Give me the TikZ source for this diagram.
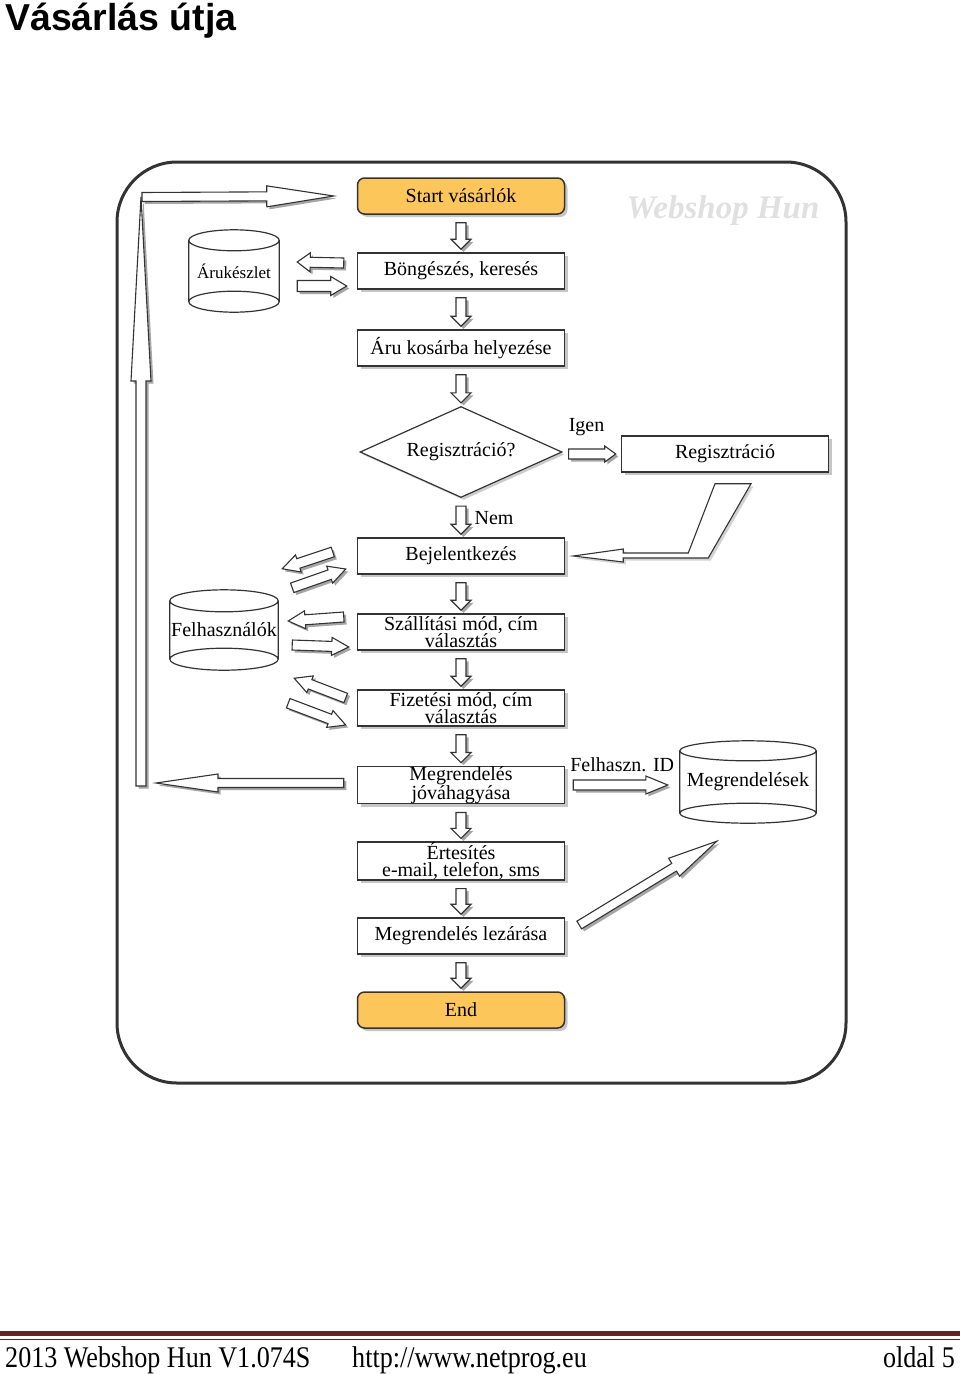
\documentclass[tikz,border=0pt]{standalone}
\usepackage{fontspec}
\setmainfont{Liberation Serif}
\newfontfamily\titlefont{Liberation Sans}
\newfontfamily\footfont[FakeStretch=0.87]{Liberation Serif}
\usetikzlibrary{shapes.geometric,shadows,calc,positioning}

\definecolor{startfill}{RGB}{253,198,91}
\definecolor{linegray}{RGB}{51,51,51}
\definecolor{footred}{RGB}{98,36,35}

% block arrow: from, to, half shaft, half head, head length
\newcommand\barrow[5]{%
  \coordinate (ba) at (#1);
  \coordinate (bb) at (#2);
  \path let \p1=($(bb)-(ba)$) in
    \pgfextra{\pgfmathsetmacro\barang{atan2(\y1,\x1)}\xdef\barang{\barang}%
      \pgfmathsetmacro\barlen{veclen(\x1,\y1)}\xdef\barlen{\barlen}};
  \begin{scope}[shift={($(ba)+(2.5,2.5)$)},rotate=\barang]
    \fill[arrowshade] (0pt,-#3pt) -- (\barlen pt-#5pt,-#3pt) -- (\barlen pt-#5pt,-#4pt)
      -- (\barlen pt,0pt) -- (\barlen pt-#5pt,#4pt) -- (\barlen pt-#5pt,#3pt) -- (0pt,#3pt) -- cycle;
  \end{scope}
  \begin{scope}[shift={(ba)},rotate=\barang]
    \draw[arrowline] (0pt,-#3pt) -- (\barlen pt-#5pt,-#3pt) -- (\barlen pt-#5pt,-#4pt)
      -- (\barlen pt,0pt) -- (\barlen pt-#5pt,#4pt) -- (\barlen pt-#5pt,#3pt) -- (0pt,#3pt) -- cycle;
  \end{scope}}

% drum outline round a store node: node name, ellipse half height
\newcommand\drum[2]{%
  \draw[drumline] let \p1=($(#1.east)-(#1.west)$) in
    ($(#1.north)+(0,#2)$) ellipse [x radius=0.5*\x1, y radius=#2pt]
    ($(#1.south)+(0,-#2)$) ellipse [x radius=0.5*\x1, y radius=#2pt]
    ($(#1.north west)+(0,#2)$) -- ($(#1.south west)+(0,-#2)$)
    ($(#1.north east)+(0,#2)$) -- ($(#1.south east)+(0,-#2)$);}

\begin{document}
\begin{tikzpicture}[x=1pt,y=-1pt,
  box/.style={rectangle,draw=linegray,line width=1.5pt,fill=white,minimum width=207pt,
    minimum height=36pt,inner sep=0pt,align=center,font=\fontsize{20}{17.5}\selectfont,
    drop shadow={opacity=.45,shadow xshift=3pt,shadow yshift=-3pt}},
  term/.style={box,rounded corners=7pt,fill=startfill},
  decision/.style={diamond,draw=linegray,line width=1.2pt,fill=white,minimum width=202pt,
    minimum height=91pt,inner sep=0pt,aspect=2.2,font=\fontsize{20}{20}\selectfont,
    drop shadow={opacity=.4,shadow xshift=2.5pt,shadow yshift=-2.5pt}},
  store/.style={inner sep=0pt,font=\fontsize{20}{20}\selectfont},
  drumline/.style={draw=linegray,line width=1.2pt},
  arrowline/.style={draw=linegray,line width=1.1pt,fill=white},
  arrowshade/.style={black,opacity=.35},
  lbl/.style={inner sep=0pt,font=\fontsize{20}{20}\selectfont},
  footer/.style={inner sep=0pt,text=black,font=\footfont\fontsize{30}{30}\selectfont},
  node distance=76pt]

  \useasboundingbox (0,0) rectangle (960,1374);

  \node[anchor=base west,inner sep=0pt,font=\titlefont\bfseries\fontsize{37.5}{40}\selectfont]
    (title) at (5,30) {Vásárlás útja};

  \draw[linegray,line width=3pt,rounded corners=60pt] (117,162) rectangle (846,1083);
  \node[font=\bfseries\itshape\fontsize{33}{33}\selectfont,text=black!12] (mark) at (723,211) {Webshop Hun};

  % main flow
  \node[term] (start) at (461,196) {Start vásárlók};
  \node[box] (brow) [node distance=75pt,below of=start] {Böngészés, keresés};
  \node[box] (cart) [node distance=77pt,below of=brow] {Áru kosárba helyezése};
  \node[decision] (regq) [node distance=104pt,below of=cart] {Regisztráció?};
  \node[box] (login) [node distance=104pt,below of=regq] {Bejelentkezés};
  \node[box] (ship) [below of=login] {Szállítási mód, cím\\választás};
  \node[box] (pay) [below of=ship] {Fizetési mód, cím\\választás};
  \node[box] (conf) [node distance=77pt,below of=pay] {Megrendelés\\jóváhagyása};
  \node[box] (notify) [below of=conf] {Értesítés\\e-mail, telefon, sms};
  \node[box] (close) [node distance=75pt,below of=notify] {Megrendelés lezárása};
  \node[term] (stop) [node distance=74pt,below of=close] {End};

  \node[box] (reg) [node distance=264pt,right of=regq,yshift=-2pt] {Regisztráció};

  % stores
  \node[store,minimum width=90pt,minimum height=82pt,font=\fontsize{17}{17}\selectfont]
    (aru) [node distance=227pt,left of=brow] {Árukészlet};
  \node[store,minimum width=108pt,minimum height=80pt] (users) [node distance=237pt,left of=ship,yshift=2pt] {Felhasználók};
  \node[store,minimum width=136pt,minimum height=82pt] (orders) [node distance=287pt,right of=conf,yshift=3pt] {Megrendelések};
  \drum{aru}{10.5}
  \drum{users}{11}
  \drum{orders}{10}

  \node[lbl] (igen) at ($(regq.east)+(24,-25)$) {Igen};
  \node[lbl] (nem) at ($(regq.south)+(33,20)$) {Nem};
  \node[lbl] (uid) at ($(conf.east)+(57,-20)$) {Felhaszn. ID};

  % down arrows
  \foreach \a/\b in {start/brow,brow/cart,cart/regq,regq/login,login/ship,ship/pay,pay/conf,conf/notify,notify/close,close/stop}
    {\barrow{$(\a.south)+(0,8)$}{$(\b.north)+(0,-3)$}{5}{10}{10}}

  % side arrows
  \barrow{$(brow.west)+(-13,-8)$}{$(aru.east)+(18,-9)$}{5}{9.5}{13}
  \barrow{$(aru.east)+(18,15)$}{$(brow.west)+(-10,15)$}{5.5}{9.5}{16}
  \barrow{$(regq.east)+(6,2)$}{$(reg.west)+(-5,0)$}{5}{8}{11}
  \barrow{$(conf.east)+(8,0)$}{$(orders.west)+(-12,3)$}{5}{9}{22}
  \barrow{$(close.east)+(14,-11)$}{$(orders.south west)+(37,18)$}{4.5}{10.5}{50}

  \barrow{$(login.west)+(-24,-4)$}{$(users.north east)+(4,-21)$}{5}{9}{17}
  \barrow{$(users.north east)+(14,-2)$}{$(login.west)+(-11,13)$}{5}{9}{17}
  \barrow{$(ship.west)+(-13,-15)$}{$(users.east)+(10,-9)$}{5}{9}{17}
  \barrow{$(users.east)+(14,15)$}{$(ship.west)+(-8,15)$}{5}{9}{17}
  \barrow{$(pay.west)+(-11,-10)$}{$(users.south east)+(16,8)$}{5}{9}{17}
  \barrow{$(users.south east)+(10,33)$}{$(pay.west)+(-11,17)$}{5}{9}{17}

  % loop back to start
  \coordinate (loopin) at (156,783);
  \coordinate (loopbot) at (141,786);
  \coordinate (looptop) at (141,197);
  \barrow{$(conf.west)+(-13,-2)$}{loopin}{4.5}{9}{62}
  \barrow{loopbot}{looptop}{5}{10}{184}
  \barrow{$(looptop)+(1,0)$}{$(start.west)+(-23,0)$}{4.5}{10.5}{67}

  % registration back to login
  \draw[arrowline,drop shadow={opacity=.35,shadow xshift=2.5pt,shadow yshift=-2.5pt}]
    ($(login.east)+(8,0)$) -- ++(50,-7) -- ++(0,4) -- ($(login.east)+(123,-3)$)
    -- ($(reg.south)+(-10,11)$) -- ($(reg.south)+(26,11)$) -- ($(login.east)+(143,2)$)
    -- ($(login.east)+(58,2)$) -- ++(0,4) -- cycle;

  % footer
  \draw[footred,line width=5pt] (0,1333.5) -- (960,1333.5);
  \draw[footred,line width=1.5pt] (0,1339.5) -- (960,1339.5);
  \node[footer,anchor=base west] (foota) at (5,1367) {2013 Webshop Hun V1.074S};
  \node[footer,anchor=base west] (footb) at (352,1367) {http://www.netprog.eu};
  \node[footer,anchor=base east] (footc) at (955,1367) {oldal 5};
\end{tikzpicture}
\end{document}
